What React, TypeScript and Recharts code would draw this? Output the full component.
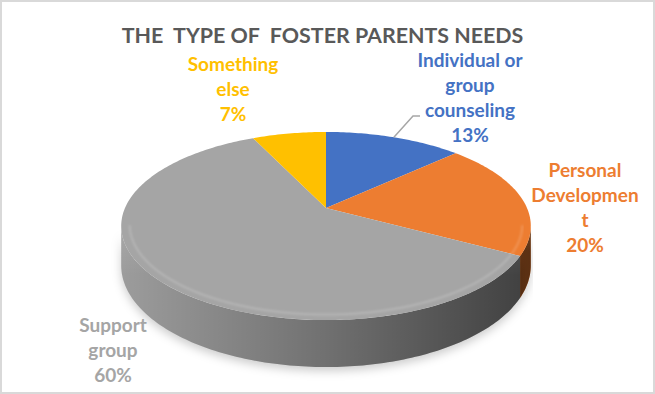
import React from 'react';
import { PieChart, Pie } from 'recharts';

const categories = ['Individual or group counseling', 'Personal Development', 'Support group', 'Something else'];
const shares = [13, 20, 60, 7];
const sliceColors = ['#4472C4', '#ED7D31', '#A5A5A5', '#FFC000'];
const labelLines = [['Individual or', 'group', 'counseling'], ['Personal', 'Developmen', 't'], ['Support', 'group'], ['Something', 'else']];
const labelAnchors = [{ x: 470, y: 66.5 }, { x: 585, y: 177 }, { x: 113, y: 331.5 }, { x: 233, y: 70.5 }];
const chartTitle = 'THE  TYPE OF  FOSTER PARENTS NEEDS';

const data = categories.map((name, i) => ({ name, value: shares[i], fill: sliceColors[i] }));

const TILT = 0.4507;
const PERSP = 0.1915;
const DEPTH = 0.189;
const RAD = Math.PI / 180;
const FONT = 'Lato, "Open Sans", sans-serif';

function proj(cx: number, cy: number, r: number, deg: number, k = 1) {
  const t = deg * RAD;
  const Z = k * Math.sin(t);
  const X = k * Math.cos(t);
  const den = 1 + PERSP * Z;
  return { x: cx + (r * X) / den, y: cy - (r * TILT * Z) / den, d: (r * DEPTH) / den };
}

function arcPoints(cx: number, cy: number, r: number, from: number, to: number, k = 1) {
  const n = Math.max(2, Math.ceil(Math.abs(to - from)));
  const pts: { x: number; y: number; d: number }[] = [];
  for (let i = 0; i <= n; i++) {
    pts.push(proj(cx, cy, r, from + ((to - from) * i) / n, k));
  }
  return pts;
}

const FRONT_HI = -Math.asin(PERSP) / RAD;
const FRONT_LO = -180 - FRONT_HI;

function Slice3D(props: any) {
  const { cx, cy, outerRadius: r, startAngle, endAngle, fill, index } = props;
  const hi = Math.max(startAngle, endAngle);
  const lo = Math.min(startAngle, endAngle);
  const top = arcPoints(cx, cy, r, hi, lo);
  const topPath = `M${cx},${cy} ` + top.map((p) => `L${p.x.toFixed(2)},${p.y.toFixed(2)}`).join(' ') + ' Z';

  const walls: string[] = [];
  const rims: string[] = [];
  for (const s of [-360, 0, 360]) {
    const a = Math.max(lo, FRONT_LO + s);
    const b = Math.min(hi, FRONT_HI + s);
    if (b > a) {
      const up = arcPoints(cx, cy, r, a, b);
      const down = up.slice().reverse();
      walls.push(
        'M' + up.map((p) => `${p.x.toFixed(2)},${p.y.toFixed(2)}`).join(' L') +
          ' L' + down.map((p) => `${p.x.toFixed(2)},${(p.y + p.d).toFixed(2)}`).join(' L') + ' Z'
      );
      const rim = arcPoints(cx, cy, r, a, b, 0.96);
      rims.push('M' + rim.map((p) => `${p.x.toFixed(2)},${p.y.toFixed(2)}`).join(' L'));
    }
  }
  const gid = `wallShade-${index}`;
  const vid = `wallGloss-${index}`;
  const fid = `wallBlur-${index}`;
  const rid = `rimBlur-${index}`;
  return (
    <g>
      <defs>
        <linearGradient id={gid} gradientUnits="userSpaceOnUse" x1={cx - r * 1.03} y1={0} x2={cx + r * 1.03} y2={0}>
          <stop offset="0" stopColor="#000" stopOpacity={0.05} />
          <stop offset="0.5" stopColor="#000" stopOpacity={0.32} />
          <stop offset="1" stopColor="#000" stopOpacity={0.62} />
        </linearGradient>
        <linearGradient id={vid} x1={0} y1={0} x2={0} y2={1}>
          <stop offset="0" stopColor="#fff" stopOpacity={0.12} />
          <stop offset="0.35" stopColor="#fff" stopOpacity={0} />
        </linearGradient>
        <filter id={fid} x="-20%" y="-50%" width="140%" height="200%">
          <feGaussianBlur stdDeviation={5} />
        </filter>
        <filter id={rid} x="-10%" y="-50%" width="120%" height="200%">
          <feGaussianBlur stdDeviation={0.8} />
        </filter>
      </defs>
      {walls.map((w, i) => (
        <path key={`s${i}`} d={w} fill="#000" fillOpacity={0.2} filter={`url(#${fid})`} transform="translate(0,4)" />
      ))}
      {walls.map((w, i) => (
        <g key={`w${i}`}>
          <path d={w} fill={fill} />
          <path d={w} fill={`url(#${gid})`} />
          <path d={w} fill={`url(#${vid})`} />
        </g>
      ))}
      <path d={topPath} fill={fill} stroke="none" />
      {rims.map((d, i) => (
        <path key={`r${i}`} d={d} fill="none" stroke="#fff" strokeOpacity={0.18} strokeWidth={2} filter={`url(#${rid})`} />
      ))}
    </g>
  );
}

function renderLabel(props: any) {
  const { index, percent, cx, cy, outerRadius, midAngle } = props;
  const anchor = labelAnchors[index];
  const lines = [...labelLines[index], `${Math.round(percent * 100)}%`];
  const color = sliceColors[index];
  let leader = null;
  if (index === 0) {
    const e = proj(cx, cy, outerRadius, midAngle);
    leader = (
      <polyline
        points={`${e.x},${e.y} ${anchor.x - 57},${anchor.y + 49.5} ${anchor.x - 50},${anchor.y + 49.5}`}
        fill="none"
        stroke="#A6A6A6"
        strokeWidth={1.5}
      />
    );
  }
  return (
    <g key={`lbl-${index}`}>
      {leader}
      <text x={anchor.x} y={anchor.y} textAnchor="middle" fill={color} fontFamily={FONT} fontWeight={700} fontSize={19}>
        {lines.map((l, i) => (
          <tspan key={i} x={anchor.x} y={anchor.y + i * 25}>
            {l}
          </tspan>
        ))}
      </text>
    </g>
  );
}

export default function App() {
  return (
    <div style={{ position: 'absolute', left: 0, top: 0, width: 655, height: 394, background: '#fff' }}>
      <PieChart width={655} height={394} margin={{ top: 0, right: 0, bottom: 0, left: 0 }}>
        <Pie
          data={data}
          dataKey="value"
          nameKey="name"
          cx={326}
          cy={208}
          outerRadius={201}
          startAngle={90}
          endAngle={-270}
          isAnimationActive={false}
          stroke="none"
          shape={Slice3D}
          activeShape={Slice3D}
          inactiveShape={Slice3D}
          label={renderLabel}
          labelLine={false}
        />
      </PieChart>
      <svg width={655} height={394} style={{ position: 'absolute', left: 0, top: 0, pointerEvents: 'none' }}>
        <text x={322.5} y={42.5} textAnchor="middle" fill="#595959" fontFamily={FONT} fontWeight={700} fontSize={21.4} style={{ whiteSpace: 'pre' }}>
          {chartTitle}
        </text>
        <rect x={1} y={1} width={653} height={392} fill="none" stroke="#D9D9D9" strokeWidth={2} />
      </svg>
    </div>
  );
}
